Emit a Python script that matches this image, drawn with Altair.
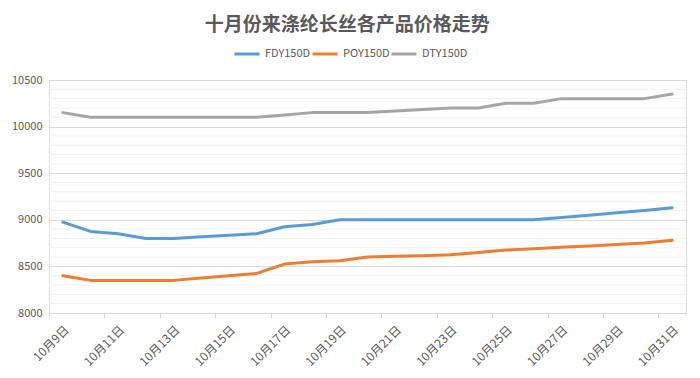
import altair as alt
import pandas as pd

days = list(range(9, 32))
fdy = [8975, 8875, 8850, 8800, 8800, 8817, 8833, 8850, 8925, 8950, 9000, 9000,
       9000, 9000, 9000, 9000, 9000, 9000, 9025, 9050, 9075, 9100, 9130]
poy = [8400, 8350, 8350, 8350, 8350, 8375, 8400, 8425, 8525, 8550, 8560, 8600,
       8610, 8615, 8625, 8650, 8675, 8690, 8705, 8720, 8735, 8750, 8780]
dty = [10150, 10100, 10100, 10100, 10100, 10100, 10100, 10100, 10125, 10150, 10150, 10150,
       10167, 10183, 10200, 10200, 10250, 10250, 10300, 10300, 10300, 10300, 10350]
series_names = ["FDY150D", "POY150D", "DTY150D"]
colors = ["#5B9BD5", "#ED7D31", "#A5A5A5"]
y_ticks = [8000, 8500, 9000, 9500, 10000, 10500]
x_label_days = list(range(9, 32, 2))
minor_grid = [v for v in range(8100, 10500, 100) if v % 500]
title_text = "十月份来涤纶长丝各产品价格走势"

rows = []
for name, vals in zip(series_names, [fdy, poy, dty]):
    for d, v in zip(days, vals):
        rows.append({"day": d, "price": v, "series": name})
df = pd.DataFrame(rows)

font = "Noto Sans CJK SC"
text_color = "#595959"
x_scale = alt.Scale(domain=[8.5, 31.5], nice=False, zero=False)
y_scale = alt.Scale(domain=[8000, 10500], nice=False, zero=False)
y_axis = alt.Axis(
    values=y_ticks, format="d", title=None, grid=True, gridColor="#D9D9D9", domain=False,
    ticks=False, labelPadding=7, minExtent=41, maxExtent=41,
    labelColor=text_color, labelFontSize=11, labelFont=font)

minor = alt.Chart(pd.DataFrame({"v": minor_grid})).mark_rule(
    color="#F2F2F2", strokeWidth=1
).encode(y=alt.Y("v:Q", scale=y_scale, axis=y_axis))

lines = alt.Chart(df).mark_line(
    strokeWidth=3, strokeCap="round", strokeJoin="round"
).encode(
    x=alt.X("day:Q", scale=x_scale, axis=alt.Axis(
        values=x_label_days, labelExpr="'10月' + datum.value + '日'",
        labelAngle=-45, tickOffset=-13.85, labelOffset=13.85, title=None, grid=False,
        domainColor="#D9D9D9", tickColor="#D9D9D9", tickSize=5,
        labelColor=text_color, labelFontSize=12, labelFont=font, labelPadding=6)),
    y=alt.Y("price:Q", scale=y_scale, axis=y_axis),
    color=alt.Color("series:N", scale=alt.Scale(domain=series_names, range=colors),
                    legend=alt.Legend(
                        orient="none", legendX=184, legendY=-40, direction="horizontal",
                        title=None, symbolType="stroke", symbolSize=625,
                        symbolStrokeWidth=3, columnPadding=-8, labelOffset=4,
                        labelFontSize=11, labelFont=font, labelColor=text_color)),
)

chart = alt.layer(minor, lines).properties(
    width=637, height=233,
    padding={"left": 0, "top": 8, "right": 0, "bottom": 0},
    title=alt.TitleParams(title_text, fontSize=19, font=font, color=text_color,
                          fontWeight="bold", anchor="middle", frame="bounds", offset=5),
).configure_view(stroke=None).configure(background="white")

chart.save("out.html", embed_options={"renderer": "svg", "actions": False})
